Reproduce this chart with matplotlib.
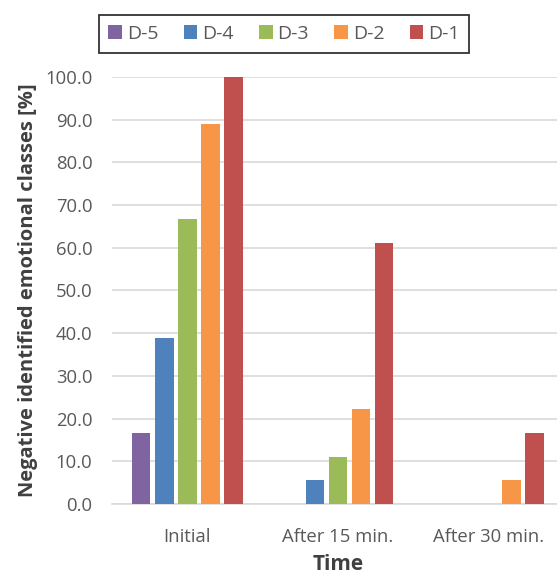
import numpy as np
import matplotlib
matplotlib.use("Agg")
import matplotlib.pyplot as plt

plt.rcParams['font.family'] = ['Open Sans', 'DejaVu Sans']

categories = ['Initial', 'After 15 min.', 'After 30 min.']
series = ['D-5', 'D-4', 'D-3', 'D-2', 'D-1']
values = {
    'D-5': [16.7, 0.0, 0.0],
    'D-4': [38.9, 5.6, 0.0],
    'D-3': [66.7, 11.1, 0.0],
    'D-2': [88.9, 22.2, 5.6],
    'D-1': [100.0, 61.1, 16.7],
}
colors = ['#8064A2', '#4F81BD', '#9BBB59', '#F79646', '#C0504D']

fig = plt.figure(figsize=(5.57, 5.74), dpi=100)
ax = fig.add_axes([0.201, 0.122, 0.8115, 0.744])

x = np.arange(len(categories))
pitch = 0.153
width = 0.123
for i, name in enumerate(series):
    ax.bar(x + (i - 2) * pitch, values[name], width, color=colors[i], label=name, zorder=3)

ax.set_xlim(-0.5, 2.5)
ax.set_ylim(0, 100)
ax.set_yticks(np.arange(0, 101, 10))
ax.set_yticklabels([f'{v:.1f}' for v in np.arange(0, 101, 10)])
ax.set_xticks(x)
ax.set_xticklabels(categories)
ax.tick_params(axis='both', length=0, labelsize=13.3, colors='#595959')
ax.tick_params(axis='x', pad=17)
ax.tick_params(axis='y', pad=14)
ax.yaxis.grid(True, color='#D9D9D9', linewidth=1.2, zorder=0)
for s in ['top', 'right', 'left']:
    ax.spines[s].set_visible(False)
ax.spines['bottom'].set_color('#D9D9D9')
ax.spines['bottom'].set_linewidth(1.2)

ax.set_ylabel('Negative identified emotional classes [%]', fontsize=14.5,
              fontweight='bold', color='#404040', labelpad=5)
ax.set_xlabel('Time', fontsize=15, fontweight='bold', color='#404040', labelpad=6)

leg = fig.legend(loc='center', bbox_to_anchor=(284 / 557, 1 - 34 / 574), ncol=5,
                 frameon=True, fancybox=False, edgecolor='black', fontsize=14,
                 handlelength=0.7, handleheight=0.7, handletextpad=0.25,
                 columnspacing=1.3, borderpad=0.5)
leg.get_frame().set_linewidth(1.3)
for t in leg.get_texts():
    t.set_color('#595959')

fig.savefig('out.png', dpi=100)
